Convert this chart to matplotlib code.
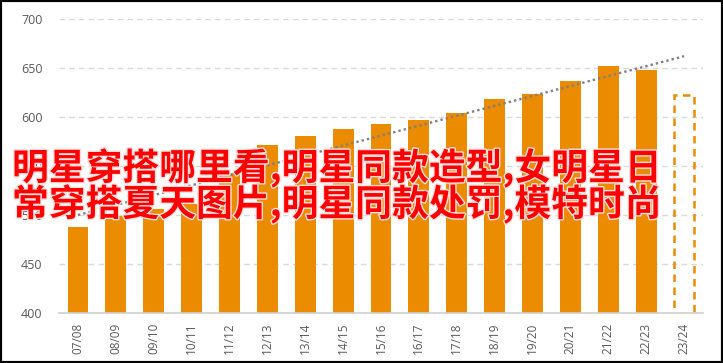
import matplotlib.pyplot as plt
import matplotlib.patheffects as pe
from matplotlib.patches import Rectangle

# data
seasons = ['07/08', '08/09', '09/10', '10/11', '11/12', '12/13', '13/14', '14/15',
           '15/16', '16/17', '17/18', '18/19', '19/20', '20/21', '21/22', '22/23', '23/24']
values = [488, 499, 506, 511, 543, 571, 581, 588, 593, 597, 604, 618, 623, 637, 652, 648]
forecast = 622          # dashed outline bar for 23/24
trend_x = [0, 16]
trend_y = [500, 662]
yticks = [400, 450, 500, 550, 600, 650, 700]
overlay = ['明星穿搭哪里看,明星同款造型,女明星日', '常穿搭夏天图片,明星同款处罚,模特时尚']

orange = '#EA8B00'
grey_txt = '#595959'

fig = plt.figure(figsize=(7.23, 3.63), dpi=100)
ax = fig.add_axes([59 / 723, 50 / 363, 644 / 723, 294 / 363])

x = list(range(len(values)))
ax.bar(x, values, width=0.55, color=orange, zorder=2)
ax.bar(len(values), forecast, width=0.55, fill=False, edgecolor=orange,
       linewidth=1.8, linestyle=(0, (3, 2.2)), zorder=2)

ax.plot(trend_x, trend_y, color='#808080', linewidth=1.7,
        linestyle=(0, (1, 1.3)), zorder=3)

ax.set_xlim(-0.5, len(seasons) - 0.5)
ax.set_ylim(400, 700)
ax.set_yticks(yticks)
ax.set_xticks(range(len(seasons)))
ax.set_xticklabels(seasons, rotation=90, fontsize=8.5, color=grey_txt, family='Open Sans')
for lbl in ax.get_yticklabels():
    lbl.set_family('Open Sans')
ax.tick_params(axis='y', length=0, pad=12, labelsize=9, labelcolor=grey_txt)
ax.tick_params(axis='x', length=0, pad=7)
ax.grid(axis='y', color='#d9d9d9', linestyle=(0, (4, 3)), linewidth=1, zorder=0)
for s in ['top', 'right', 'left']:
    ax.spines[s].set_visible(False)
ax.spines['bottom'].set_color('#d0d0d0')
ax.spines['bottom'].set_linewidth(1.2)
ax.set_axisbelow(True)

# big red overlay text
for i, line in enumerate(overlay):
    fig.text(12 / 723, 1 - (168 + i * 36) / 363, line, color='#ff0000', fontsize=26.5,
             fontweight='bold', family=['Noto Sans CJK SC', 'DejaVu Sans'],
             ha='left', va='center', zorder=10,
             path_effects=[pe.withStroke(linewidth=2, foreground='#ffe0e0')])

# black frame around the picture
fig.patches.append(Rectangle((0, 0), 1, 1, transform=fig.transFigure, fill=False,
                             edgecolor='black', linewidth=3, zorder=20))

fig.savefig('out.png', dpi=100)
